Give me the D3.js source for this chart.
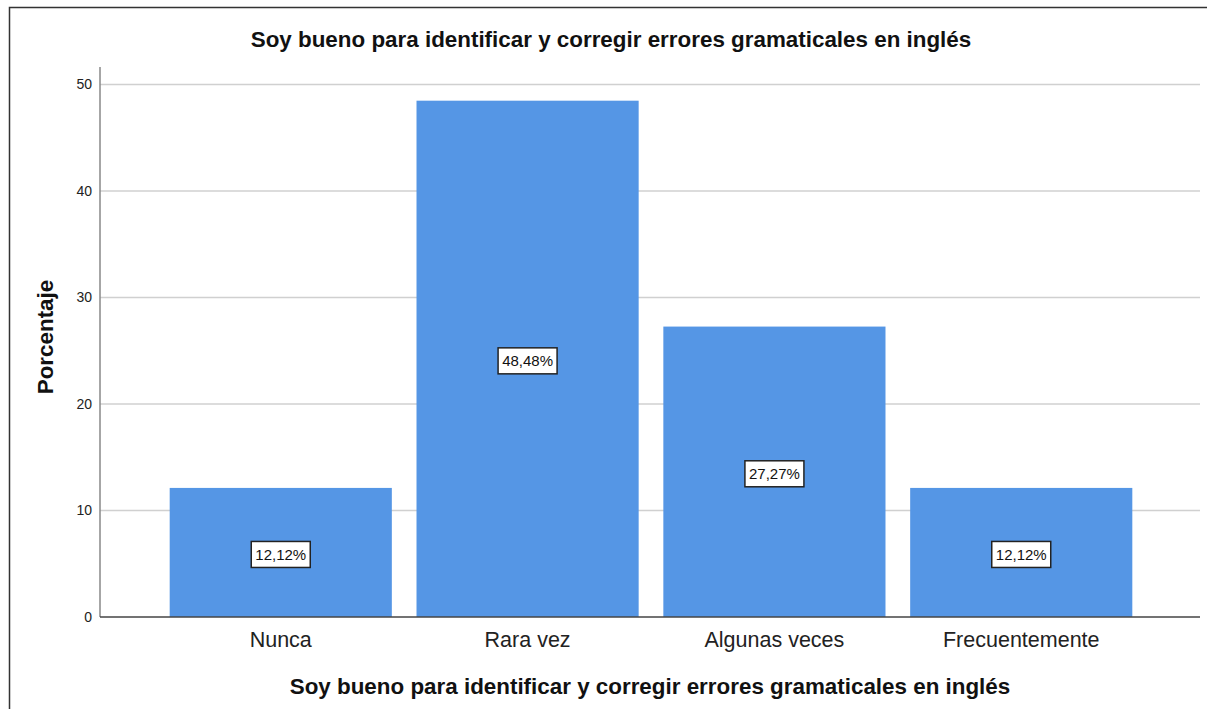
<!DOCTYPE html>
<html><head><meta charset="utf-8">
<script src="https://cdn.jsdelivr.net/npm/d3@7"></script>
<style>html,body{margin:0;padding:0;background:#fff;}svg{display:block;}</style>
</head><body>
<script>
const categories = ["Nunca", "Rara vez", "Algunas veces", "Frecuentemente"];
const values = [12.12, 48.48, 27.27, 12.12];
const valueLabels = ["12,12%", "48,48%", "27,27%", "12,12%"];
const yTicks = [0, 10, 20, 30, 40, 50];
const title = "Soy bueno para identificar y corregir errores gramaticales en inglés";
const yTitle = "Porcentaje";

const W = 1207, H = 709;
const svg = d3.select("body").append("svg").attr("width", W).attr("height", H);
const font = "Liberation Sans, Arial, sans-serif";

// outer frame
svg.append("rect").attr("x", 9.5).attr("y", 7.5).attr("width", W + 10).attr("height", H + 10)
  .attr("fill", "none").attr("stroke", "#333").attr("stroke-width", 1.5);

const plotL = 100, plotR = 1200, plotTop = 67, plotBottom = 617;
const y = d3.scaleLinear().domain([0, 50]).range([plotBottom, 84.5]);
const x = d3.scaleBand().domain(categories).range([145, 1157]).paddingInner(0.1).paddingOuter(0.1);

// gridlines
svg.append("g").selectAll("line").data(yTicks.filter(t => t > 0)).join("line")
  .attr("x1", plotL).attr("x2", plotR).attr("y1", d => y(d)).attr("y2", d => y(d))
  .attr("stroke", "#d0d0d0").attr("stroke-width", 1.5);

// bars
svg.append("g").selectAll("rect").data(values).join("rect")
  .attr("x", (d, i) => x(categories[i])).attr("width", x.bandwidth())
  .attr("y", d => y(d)).attr("height", d => plotBottom - y(d))
  .attr("fill", "#5596e5");

// y axis
const yAxis = d3.axisLeft(y).tickValues(yTicks).tickSize(0).tickPadding(8);
const gy = svg.append("g").attr("transform", `translate(${plotL},0)`).call(yAxis);
gy.select(".domain").remove();
gy.selectAll("text").attr("font-family", font).attr("font-size", 14).attr("fill", "#222");
svg.append("line").attr("x1", plotL).attr("x2", plotL).attr("y1", plotTop).attr("y2", plotBottom)
  .attr("stroke", "#888").attr("stroke-width", 1.5);

// x axis
const xAxis = d3.axisBottom(x).tickSize(0).tickPadding(15);
const gx = svg.append("g").attr("transform", `translate(0,${plotBottom})`).call(xAxis);
gx.select(".domain").remove();
gx.selectAll("text").attr("font-family", font).attr("font-size", 21.5).attr("fill", "#222");
svg.append("line").attr("x1", plotL).attr("x2", plotR).attr("y1", plotBottom).attr("y2", plotBottom)
  .attr("stroke", "#444").attr("stroke-width", 1.5);

// value labels
const lab = svg.append("g").selectAll("g").data(values).join("g")
  .attr("transform", (d, i) => `translate(${x(categories[i]) + x.bandwidth() / 2},${y(d / 2) + 2})`);
lab.append("rect").attr("x", -29.5).attr("y", -13).attr("width", 59).attr("height", 26)
  .attr("fill", "#fff").attr("stroke", "#222").attr("stroke-width", 1.5);
lab.append("text").text((d, i) => valueLabels[i]).attr("text-anchor", "middle").attr("dy", "0.36em")
  .attr("font-family", font).attr("font-size", 15).attr("fill", "#111");

// titles
svg.append("text").attr("x", 611).attr("y", 47).attr("text-anchor", "middle")
  .attr("font-family", font).attr("font-weight", "bold").attr("font-size", 22.4).attr("fill", "#111").text(title);
svg.append("text").attr("x", 650).attr("y", 694).attr("text-anchor", "middle")
  .attr("font-family", font).attr("font-weight", "bold").attr("font-size", 22.4).attr("fill", "#111").text(title);
svg.append("text").attr("transform", "translate(53,337) rotate(-90)").attr("text-anchor", "middle")
  .attr("font-family", font).attr("font-weight", "bold").attr("font-size", 22.4).attr("fill", "#111").text(yTitle);
</script>
</body></html>
